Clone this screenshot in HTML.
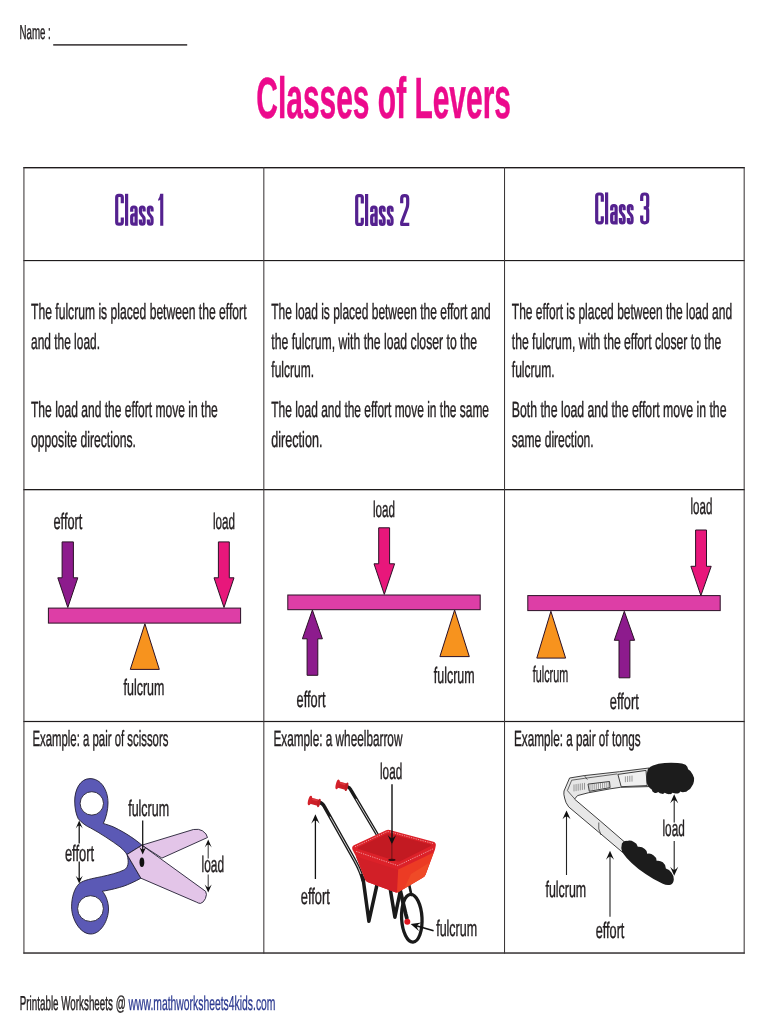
<!DOCTYPE html>
<html>
<head>
<meta charset="utf-8">
<title>Classes of Levers</title>
<style>
html,body{margin:0;padding:0;background:#fff;}
body{width:768px;height:1024px;overflow:hidden;font-family:"Liberation Sans",sans-serif;}
svg{display:block;font-family:"Liberation Sans",sans-serif;}
.t{fill:#231f20;stroke:#231f20;stroke-width:.45;}
.b{font-size:22px;}
.l{font-size:22.5px;}
.e{font-size:22px;}
.ol{stroke:#2b1126;stroke-width:1;stroke-linejoin:miter;}
</style>
</head>
<body>
<svg width="768" height="1024" viewBox="0 0 768 1024" text-rendering="geometricPrecision" style="will-change:transform;opacity:.9999">
<rect width="768" height="1024" fill="#fff"/>

<!-- header -->
<g id="header">
<text class="t" x="19.5" y="38.6" font-size="20.2" textLength="31.3" lengthAdjust="spacingAndGlyphs">Name :</text>
<rect x="53.2" y="44.2" width="134" height="1.4" fill="#231f20"/>
<text x="256.3" y="118.4" font-size="58" font-weight="bold" textLength="254.7" lengthAdjust="spacingAndGlyphs" fill="#ec0a8c" stroke="#ec0a8c" stroke-width=".5">Classes of Levers</text>
</g>

<!-- grid -->
<g id="grid" fill="#1f1b1c">
<rect x="23.4" y="167" width="721.3" height="1.4"/>
<rect x="23.4" y="260" width="721.3" height="1.15"/>
<rect x="23.4" y="489" width="721.3" height="1.3"/>
<rect x="23.4" y="720.9" width="721.3" height="1.2"/>
<rect x="23.4" y="952.35" width="721.3" height="1.35"/>
<g fill="#3c3839">
<rect x="23.4" y="167" width="1.05" height="786.7"/>
<rect x="263.3" y="167" width="1.05" height="786.7"/>
<rect x="504" y="167" width="1.05" height="786.7"/>
<rect x="743.65" y="167" width="1.05" height="786.7"/>
</g>
</g>

<!-- class headings -->
<g id="headings">
<defs>
<g id="gClass" fill="none" stroke="#54218f" stroke-width="3.2" stroke-linejoin="round">
<path d="M7.2,-22.6 V-28.4 Q7.2,-30.4 5.2,-30.4 H3.6 Q1.6,-30.4 1.6,-28.4 V-3.6 Q1.6,-1.6 3.6,-1.6 H5.2 Q7.2,-1.6 7.2,-3.6 V-8.2"/>
<path d="M11.5,-32 V0"/>
<path d="M16.6,-14 V-16.8 Q16.6,-18.8 18.6,-18.8 H19 Q21,-18.8 21,-16.8 V0 M21,-11 H18.6 Q16.6,-11 16.6,-9 V-3.6 Q16.6,-1.6 18.6,-1.6 H19 Q21,-1.6 21,-3.6"/>
<path id="gs" d="M29,-14.2 V-16.9 Q29,-18.8 27.1,-18.8 Q25.3,-18.8 25.3,-16.9 V-14 Q25.3,-12.3 27.1,-10.4 Q29,-8.5 29,-6.8 V-3.5 Q29,-1.6 27.1,-1.6 Q25.3,-1.6 25.3,-3.5 V-6.4"/>
<use href="#gs" x="7.95"/>
</g>
<g id="g1" fill="#54218f"><path d="M45.6,-26.6 Q47.2,-28.6 47.6,-32 H50.7 V0 H47.6 V-26 Q46.6,-25.2 45.6,-25 Z"/></g>
<g id="g2" fill="none" stroke="#54218f" stroke-width="3.2" stroke-linejoin="round"><path d="M46.6,-22.8 V-27.6 Q46.6,-30.4 49.4,-30.4 H49.8 Q52.6,-30.4 52.6,-27.6 V-22 Q52.6,-19.5 51.6,-17 L46.6,-3.8 V-1.6 H54.2"/></g>
<g id="g3" fill="none" stroke="#54218f" stroke-width="3.2" stroke-linejoin="round"><path d="M46.6,-23.4 V-27.6 Q46.6,-30.4 49.4,-30.4 H49.8 Q52.6,-30.4 52.6,-27.6 V-19.4 Q52.6,-16.6 49.8,-16.6 H48.6 M49.8,-16.6 Q52.6,-16.6 52.6,-13.8 V-4.4 Q52.6,-1.6 49.8,-1.6 H49.4 Q46.6,-1.6 46.6,-4.4 V-8.8"/></g>
</defs>
<g transform="translate(115.1,225.8)"><use href="#gClass"/><use href="#g1" x="-2.5"/></g>
<g transform="translate(355.1,226)"><use href="#gClass"/><use href="#g2"/></g>
<g transform="translate(595.1,224.4)"><use href="#gClass"/><use href="#g3"/></g>
</g>

<!-- body text -->
<g id="body" class="t b">
<text x="31" y="319" textLength="215.5" lengthAdjust="spacingAndGlyphs">The fulcrum is placed between the effort</text>
<text x="31" y="349" textLength="69" lengthAdjust="spacingAndGlyphs">and the load.</text>
<text x="31" y="417.3" textLength="186.8" lengthAdjust="spacingAndGlyphs">The load and the effort move in the</text>
<text x="31" y="447" textLength="104.9" lengthAdjust="spacingAndGlyphs">opposite directions.</text>

<text x="271.3" y="319" textLength="219.3" lengthAdjust="spacingAndGlyphs">The load is placed between the effort and</text>
<text x="271.3" y="348.8" textLength="205.8" lengthAdjust="spacingAndGlyphs">the fulcrum, with the load closer to the</text>
<text x="271.3" y="377" textLength="42.7" lengthAdjust="spacingAndGlyphs">fulcrum.</text>
<text x="271.3" y="417.1" textLength="217.7" lengthAdjust="spacingAndGlyphs">The load and the effort move in the same</text>
<text x="271.3" y="446.8" textLength="51.1" lengthAdjust="spacingAndGlyphs">direction.</text>

<text x="511.8" y="319" textLength="220.3" lengthAdjust="spacingAndGlyphs">The effort is placed between the load and</text>
<text x="511.8" y="348.8" textLength="209.4" lengthAdjust="spacingAndGlyphs">the fulcrum, with the effort closer to the</text>
<text x="511.8" y="377" textLength="42.8" lengthAdjust="spacingAndGlyphs">fulcrum.</text>
<text x="511.8" y="417.1" textLength="214.7" lengthAdjust="spacingAndGlyphs">Both the load and the effort move in the</text>
<text x="511.8" y="446.8" textLength="81.9" lengthAdjust="spacingAndGlyphs">same direction.</text>
</g>

<!-- lever 1 -->
<g id="lever1">
<polygon class="ol" fill="#f7931e" points="144.9,623.8 159.3,669.4 130.3,669.4"/>
<rect class="ol" fill="#dd3ea6" x="48.4" y="608.1" width="192.2" height="15"/>
<polygon class="ol" fill="#8d1b8d" points="62.1,541.9 73.4,541.9 73.4,577.8 77.8,577.8 67.8,607.5 57.8,577.8 62.1,577.8"/>
<polygon class="ol" fill="#e8177b" points="218.4,541.9 229.3,541.9 229.3,577.8 234,577.8 224,607.5 214,577.8 218.4,577.8"/>
<g class="t l">
<text x="53.5" y="529.1" textLength="28.9" lengthAdjust="spacingAndGlyphs">effort</text>
<text x="212.9" y="528.9" textLength="22.1" lengthAdjust="spacingAndGlyphs">load</text>
<text x="123.6" y="694.8" textLength="40.8" lengthAdjust="spacingAndGlyphs">fulcrum</text>
</g>
</g>

<!-- lever 2 -->
<g id="lever2">
<polygon class="ol" fill="#f7931e" points="454.6,610 469.3,656.6 439.9,656.6"/>
<polygon class="ol" fill="#8d1b8d" points="312.4,610 322.4,638.8 317.8,638.8 317.8,675.3 307.1,675.3 307.1,638.8 302.4,638.8"/>
<rect class="ol" fill="#dd3ea6" x="287.8" y="595" width="192.4" height="14.7"/>
<polygon class="ol" fill="#e8177b" points="378.7,527.8 389.6,527.8 389.6,563.8 394.6,563.8 384.3,594.4 374,563.8 378.7,563.8"/>
<g class="t l">
<text x="372.9" y="517" textLength="22.1" lengthAdjust="spacingAndGlyphs">load</text>
<text x="433.8" y="682.8" textLength="40.8" lengthAdjust="spacingAndGlyphs">fulcrum</text>
<text x="296.6" y="707" textLength="28.9" lengthAdjust="spacingAndGlyphs">effort</text>
</g>
</g>

<!-- lever 3 -->
<g id="lever3">
<polygon class="ol" fill="#f7931e" points="550.9,611.3 565.6,658.1 536.8,658.1"/>
<polygon class="ol" fill="#8d1b8d" points="624.3,611.3 634.6,640.3 629.9,640.3 629.9,677.8 619,677.8 619,640.3 614.3,640.3"/>
<rect class="ol" fill="#dd3ea6" x="527.8" y="595.6" width="192.4" height="15"/>
<polygon class="ol" fill="#e8177b" points="695.6,530 706.5,530 706.5,566.3 711.2,566.3 700.9,595.6 690.9,566.3 695.6,566.3"/>
<g class="t l">
<text x="690.5" y="514.2" textLength="21.9" lengthAdjust="spacingAndGlyphs">load</text>
<text x="532.8" y="681.5" textLength="35.3" lengthAdjust="spacingAndGlyphs">fulcrum</text>
<text x="609.8" y="708.5" textLength="28.9" lengthAdjust="spacingAndGlyphs">effort</text>
</g>
</g>

<!-- example titles -->
<g id="extitles" class="t e">
<text x="32.4" y="745.9" textLength="136" lengthAdjust="spacingAndGlyphs">Example: a pair of scissors</text>
<text x="273.4" y="745.9" textLength="129" lengthAdjust="spacingAndGlyphs">Example: a wheelbarrow</text>
<text x="514" y="745.9" textLength="126.6" lengthAdjust="spacingAndGlyphs">Example: a pair of tongs</text>
</g>

<!-- scissors -->
<g id="scissors">
<defs>
<path id="ah" d="M0,0 L-3.5,7.8 Q-1.4,5.3 0,5 Q1.4,5.3 3.5,7.8 Z" fill="#111"/>
</defs>
<g stroke="#221f33" stroke-width=".9" stroke-linejoin="round">
<!-- upper blade (behind) -->
<path fill="#e3c5e8" d="M141.9,845.2 L193.4,829.5 Q199,828.6 202.5,830.8 Q206.8,833.6 207.5,837.5 L161.9,858.1 Z"/>
<!-- lower handle -->
<path fill="#5b59b5" d="M127,854.5 L140.9,878.2 C135,881.6 128,884.6 124.2,886 C118,888 112,889.6 102.3,891.3 C105,894 108.5,901 108.5,909 C108.5,920 101,934 90.8,934 C80,934 71.6,919 71.6,906.9 C71.6,897 74.5,888 79.4,883.4 C84,880 92,878.6 101.3,876.7 C110,874.8 118,872.8 124.2,869.9 C128,867.6 129.4,863 127,854.5 Z"/>
<circle fill="#fff" cx="90.5" cy="908.6" r="12.9"/>
<!-- upper handle -->
<path fill="#5b59b5" d="M127,854.5 L141.9,845.2 C136,840 127,833.5 113.8,827.1 C110,825.4 106,824.4 103.3,823.4 C106,818 108,810 108,803 C108,790 101,778.6 90,778.6 C80,778.6 74.7,790 74.7,801 C74.7,808 76,814.4 78.3,818.8 C82,823 86,826 90.8,828.1 C100,833 112,841 120,846.9 C123,849.4 125.4,852 127,854.5 Z"/>
<circle fill="#fff" cx="91.8" cy="803.4" r="11.7"/>
<!-- lower blade (front) -->
<path fill="#e3c5e8" d="M127,854.5 L141.9,845.2 L205.6,891.3 Q207.4,894 205.4,898.6 Q203.4,902.8 200.5,903.4 Q198.5,903.4 196.6,902.2 L140.9,878.2 Z"/>
</g>
<ellipse cx="141.9" cy="862.3" rx="2.4" ry="4.7" fill="#111"/>
<!-- labels -->
<g class="t l">
<text x="128.2" y="816.1" textLength="40.9" lengthAdjust="spacingAndGlyphs">fulcrum</text>
<text x="64.9" y="860.7" textLength="29.2" lengthAdjust="spacingAndGlyphs">effort</text>
<text x="201.6" y="871.5" textLength="22.5" lengthAdjust="spacingAndGlyphs">load</text>
</g>
<g stroke="#111" stroke-width="1.25" fill="none">
<path d="M142.7,820.5 V851"/>
<path d="M79.2,824 V843.5 M79.2,861.6 V880"/>
<path stroke="#444" stroke-width="1.1" d="M208.2,843 V858.5 M208.2,874.6 V889"/>
</g>
<use href="#ah" transform="translate(142.7,854.6) rotate(180)"/>
<use href="#ah" transform="translate(79.2,820.6)"/>
<use href="#ah" transform="translate(79.2,883.6) rotate(180)"/>
<use href="#ah" transform="translate(208.2,839.6)"/>
<use href="#ah" transform="translate(208.2,892.4) rotate(180)"/>
</g>
<!-- wheelbarrow -->
<g id="barrow">
<g fill="none" stroke="#1a1a1a" stroke-linecap="round" stroke-linejoin="round">
<!-- right handle bar -->
<path stroke-width="3.4" d="M347.1,786.5 Q349.6,787.4 350.8,789.8 L377.5,835"/>
<path stroke="#fff" stroke-width=".8" stroke-linecap="butt" d="M356,798.8 L377.5,835"/>
<!-- left handle bar + leg -->
<path stroke-width="3.5" d="M319.3,802.3 Q322.8,803.3 324.4,806.6 L355,861 Q361,872 363,880.4"/>
<path stroke="#fff" stroke-width=".8" stroke-linecap="butt" d="M330,816.6 L355,861 Q359,868 361,874"/>
<path stroke-width="3.5" d="M363,878 L368.9,921.2 L376.7,886"/>
<!-- second leg -->
<path stroke-width="3.5" d="M390.4,890 L394.9,917.2 L400.1,892"/>
<!-- fork + strut -->
<path stroke-width="3.8" d="M400.1,890 L405.6,913.5 L406.8,918"/>
<path stroke-width="2.6" d="M409,884 L411.4,895"/>
<!-- wheel -->
<ellipse stroke-width="3.3" cx="411.8" cy="918.2" rx="10.2" ry="23.9" transform="rotate(-3 411.8 918.2)"/>
</g>
<circle cx="407.3" cy="921.8" r="3" fill="#e0161f"/>
<!-- tub -->
<path fill="#dc2129" d="M352.4,849.6 Q351.4,846.4 354.4,845 L385.6,830.4 Q388,829.4 390.6,830.2 L433.4,841.8 Q436.2,842.8 435.8,845.6 L435,849.4 L425.6,874.4 Q424.8,876.4 423,877.6 L399,891.8 Q397.2,892.8 395.2,892.2 L367.4,882 Q365.8,881.4 365.2,879.8 L356,856.4 Z"/>
<path fill="#d21f27" d="M356,856.4 L398,869.8 L397.4,892.5 Q396.2,892.5 395.2,892.2 L367.4,882 Q365.8,881.4 365.2,879.8 Z"/>
<path fill="#ec3b24" d="M398.2,869.4 L433.6,852.4 L425.6,874.4 Q424.8,876.4 423,877.6 L399,891.8 Q397.8,892.4 397,892.4 Z"/>
<path fill="#f15a29" d="M411,874 L429.6,862.4 L425.6,874.4 Q424.8,876.4 423,877.6 L404,888.8 Z" opacity=".5"/>
<path fill="#c31a22" d="M358.2,847.2 L387.2,833.8 Q388.4,833.4 389.6,833.8 L430.6,844.4 Q432.2,845 430.8,846 L399.8,861.4 Q398.6,861.8 397.4,861.4 L358.6,849 Q357,848.2 358.2,847.2 Z"/>
<g fill="none" stroke="#fff" stroke-width=".6" stroke-dasharray="1.3 1.1" opacity=".85">
<path d="M355,846.8 L386.4,832 Q388,831.4 389.8,831.8 L433.4,843.6"/>
<path d="M356.2,851.4 L397.8,865.6 L433.6,848.6"/>
</g>
<!-- grips -->
<g id="grip" transform="translate(314.4,801.7) rotate(15) scale(.93)">
<rect x="-5" y="-3.4" width="10.2" height="6.8" fill="#cc1f27"/>
<ellipse cx="-5" cy="0" rx="1.9" ry="5.3" fill="#d4212a"/>
<ellipse cx="5" cy="0" rx="1.5" ry="4.7" fill="#c01c23"/>
<rect x="-3" y="-3.2" width="6" height="2" fill="#e8464c" opacity=".6"/>
</g>
<use href="#grip" transform="translate(27.7,-16.1)"/>
<!-- labels -->
<g class="t l">
<text x="380" y="778.5" textLength="22.2" lengthAdjust="spacingAndGlyphs">load</text>
<text x="300.8" y="903.7" textLength="29.1" lengthAdjust="spacingAndGlyphs">effort</text>
<text x="436.2" y="936" textLength="40.9" lengthAdjust="spacingAndGlyphs">fulcrum</text>
</g>
<g stroke="#111" fill="none">
<path stroke-width="1.4" d="M392,784.3 V839"/>
<path stroke-width=".5" d="M391.9,844 V859.6"/>
<path stroke-width="1.3" d="M315.4,819 V879"/>
<path stroke-width="1.7" d="M433.6,930.7 L414.5,925.2"/>
</g>
<ellipse cx="391.9" cy="859.9" rx="3.6" ry="1.1" fill="#3a0c10"/>
<use href="#ah" transform="translate(391.9,844.4) rotate(180) scale(1.2)"/>
<use href="#ah" transform="translate(315.4,814.3) scale(1.2)"/>
<use href="#ah" transform="translate(410.6,924) rotate(-74) scale(1.3)"/>
</g>
<!-- tongs -->
<g id="tongs">
<g stroke="#2a2a2a" stroke-width=".9" stroke-linejoin="round" fill="#e7e7e7">
<!-- arms -->
<path d="M569.6,778 L584.3,775.6 L619.5,771.7 L649,768 L649,786.6 L620.4,787.3 L609.7,788.9 L588.2,792.8 L577.5,795.6 L574.5,799.1 L600.9,821.5 L625.5,842.8 L622.4,852.2 L598.9,832.3 L568.7,806.9 Q565.4,802.6 564.6,798 Q563.4,794 564,791 Z"/>
<!-- inner details -->
<path fill="#f0f0f0" d="M588,784.1 L609.5,781.5 L610.1,787.6 L589.3,791.3 Z"/>
<path fill="#f0f0f0" d="M617.9,774.4 L646,770.4 L647.2,785.6 L621.2,786.7 Z"/>
<path fill="none" stroke-width=".7" d="M571.7,780.2 L584.7,778.3 L617.3,773.9 M584.3,775.6 L587.4,779.6 M571.7,780.2 L567.4,790.6 L574.6,798.8 M598.8,822.5 Q597.6,829 601.1,835"/>
<path fill="none" stroke="#444" stroke-width=".5" d="M590.0,784.4 V790.4 M592.1,784.1 V790.0 M594.2,783.9 V789.6 M596.3,783.6 V789.3 M598.4,783.3 V788.9 M600.5,783.1 V788.5 M602.6,782.8 V788.2 M604.7,782.6 V787.8 M606.8,782.3 V787.5 M608.9,782.1 V787.1 M574.0,784.5 V791.4 M576.1,784.1 V791.1 M578.2,783.8 V790.7 M580.3,783.5 V790.3 M582.4,783.2 V789.9 M584.5,782.9 V789.6 M625.4,776.4 V782.2 M627.6,776.1 V782.0 M629.8,775.8 V781.8 M632,775.6 V781.6"/>
</g>
<!-- black heads -->
<path fill="#1c1c1c" d="M647.8,769.3 Q649.6,766.6 653,765.4 Q658.4,763.3 664.7,763.1 Q671,762.2 677.7,763.1 Q682.4,763.2 685.5,764.8 Q687.8,766.4 688.1,769.3 Q691.4,771 692.7,774.5 Q694.6,777.6 694,781 Q693.6,784.6 691.4,786.9 Q690.4,789.2 688.1,790.2 Q686.4,792 684.2,792.1 Q682.2,792.6 680.3,791.5 Q679.4,793.4 677.7,793.4 Q675,794 672.5,792.8 Q671.4,794.4 669.9,794.1 Q667,794.4 664.7,792.8 Q663.6,794.2 662.1,793.8 Q659.6,793.8 658.2,792.1 Q656.2,793.6 654.3,792.8 Q652,791.8 651.7,789.5 Q649.4,788.4 648.4,786.3 Q646.2,783.4 646.5,779.7 Q646.2,774 647.8,769.3 Z"/>
<path fill="#1c1c1c" d="M621.9,843.6 Q623.4,840.6 626.9,840.9 Q630.6,839.8 633.9,842 Q637,843.4 637.8,846.7 Q641.8,846.2 644.8,849.1 Q647.2,850.6 647.2,853.8 Q650.8,853 653.4,855.3 Q656.4,857.2 656.6,860.8 Q660,860.2 662.8,862.3 Q665.8,864.6 665.9,868.6 Q669.4,869.4 671.4,872.5 Q674,875.6 673.8,879.5 Q673.6,883.4 670.6,884.7 Q666.8,885.6 662.8,883.8 Q654,880 645.6,874.1 Q638,869.2 631.6,863.1 Q626,857.6 622.2,852.2 Q620.6,847.6 621.9,843.6 Z"/>
<!-- labels -->
<g class="t l">
<text x="662.5" y="836.4" textLength="22.3" lengthAdjust="spacingAndGlyphs">load</text>
<text x="545.5" y="897.1" textLength="40.7" lengthAdjust="spacingAndGlyphs">fulcrum</text>
<text x="595.7" y="938.4" textLength="28.7" lengthAdjust="spacingAndGlyphs">effort</text>
</g>
<g stroke="#222" stroke-width="1.1" fill="none">
<path d="M674.2,799 V822.4 M674.2,841 V871"/>
<path d="M566.5,815 V875"/>
<path d="M610,856 V916.7"/>
</g>
<use href="#ah" transform="translate(674.2,794.2) scale(1.15)"/>
<use href="#ah" transform="translate(674.2,875.8) rotate(180) scale(1.15)"/>
<use href="#ah" transform="translate(566.5,810.4) scale(1.15)"/>
<use href="#ah" transform="translate(610,850.8) scale(1.15)"/>
</g>

<!-- footer -->
<g id="footer">
<text class="t" x="19.8" y="1009.8" font-size="20.2" textLength="105.8" lengthAdjust="spacingAndGlyphs">Printable Worksheets @</text>
<text x="128.5" y="1009.8" font-size="20.2" textLength="147" lengthAdjust="spacingAndGlyphs" fill="#2b3990" stroke="#2b3990" stroke-width=".3">www.mathworksheets4kids.com</text>
</g>
</svg>
</body>
</html>
